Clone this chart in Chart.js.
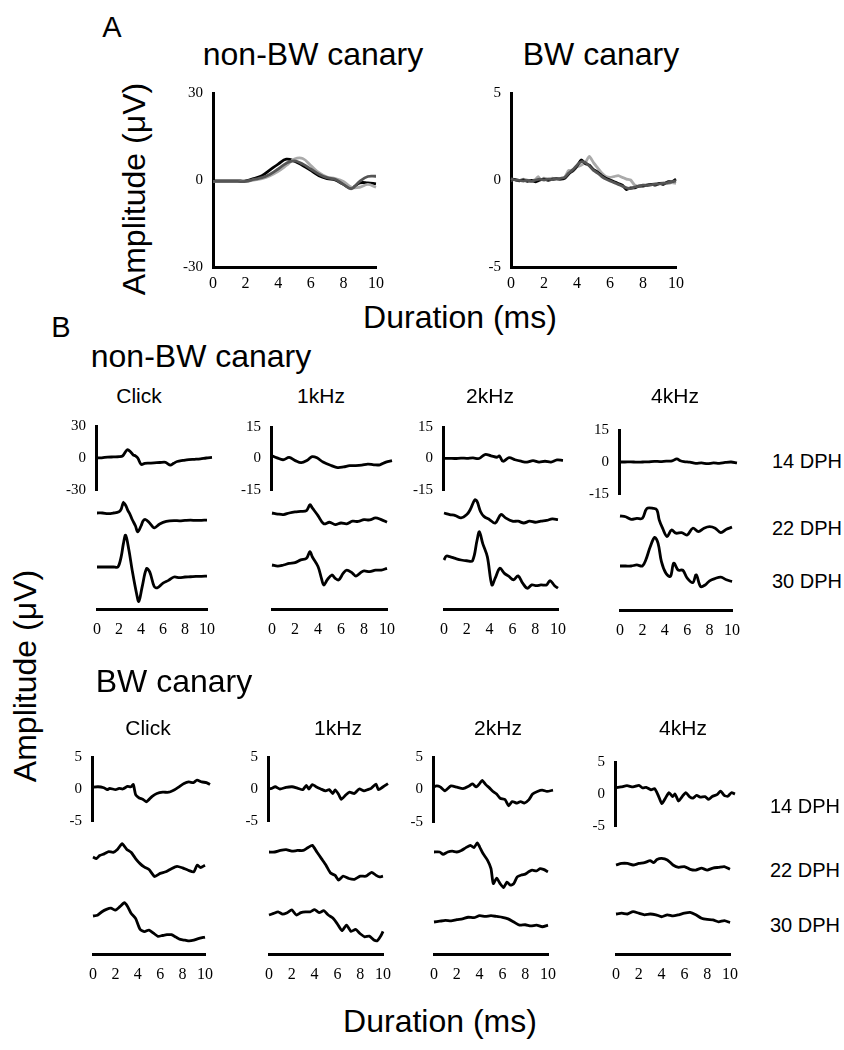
<!DOCTYPE html>
<html>
<head>
<meta charset="utf-8">
<script src="https://cdn.jsdelivr.net/npm/chart.js@4.4.1/dist/chart.umd.min.js"></script>
<style>
  body { margin: 0; background: #fff; width: 844px; height: 1050px; position: relative; overflow: hidden; }
  .lbl { position: absolute; white-space: nowrap; color: #000; line-height: 1; font-family: "Liberation Sans", Arial, sans-serif; }
  canvas { position: absolute; }
</style>
</head>
<body>
<script>
// ---- data: [time (ms), amplitude (uV)] ----
// panel A, non-BW canary (three birds)
const aNonBlack = [[0,-0.3],[0.5,-0.3],[1,-0.3],[1.5,-0.3],[2,-0.3],[2.5,0.5],[3,1.5],[3.5,3.5],[4,5.5],[4.5,7.2],[5,6.5],[5.5,5],[6,3.3],[6.5,1.5],[7,0.5],[7.5,0],[8,-1.5],[8.5,-2.8],[9,-1],[9.5,-1],[10,-1.3]];
const aNonDark = [[0,-0.5],[0.5,-0.5],[1,-0.5],[1.5,-0.5],[2,-0.5],[2.5,0.2],[3,0.8],[3.5,2],[4,3.8],[4.5,5.8],[5,6.6],[5.5,5.5],[6,3.8],[6.5,2],[7,0.8],[7.5,0.2],[8,-1.5],[8.5,-3],[9,-0.5],[9.5,1.2],[10,1.3]];
const aNonLight = [[0,-0.5],[0.5,-0.5],[1,-0.5],[1.5,-0.5],[2,-0.5],[2.5,0],[3,0.5],[3.5,1.5],[4,3],[4.5,5],[5,7.2],[5.5,7.4],[6,5],[6.5,2.5],[7,1],[7.5,0.5],[8,-0.5],[8.5,-2.5],[9,-2.5],[9.5,-1.5],[10,-2.5]];
// panel A, BW canary
const aBwBlack = [[0,0.05],[0.25,0.02],[0.5,-0.05],[0.75,0],[1,-0.08],[1.25,-0.03],[1.5,-0.1],[1.75,0],[2,0.05],[2.25,-0.02],[2.5,0.05],[2.75,0.08],[3,0.05],[3.25,0.1],[3.5,0.35],[3.75,0.55],[4,0.8],[4.25,1.15],[4.5,0.95],[4.75,0.85],[5,0.6],[5.25,0.45],[5.5,0.25],[5.75,0.1],[6,0],[6.25,-0.1],[6.5,-0.2],[6.75,-0.3],[7,-0.55],[7.25,-0.45],[7.5,-0.45],[7.75,-0.35],[8,-0.35],[8.25,-0.3],[8.5,-0.25],[8.75,-0.3],[9,-0.2],[9.25,-0.25],[9.5,-0.1],[9.75,-0.1],[10,0.05]];
const aBwDark = [[0,0.08],[0.25,0],[0.5,-0.02],[0.75,-0.06],[1,-0.02],[1.25,-0.08],[1.5,0],[1.75,0.05],[2,0],[2.25,0.05],[2.5,0.02],[2.75,0.06],[3,0.1],[3.25,0.15],[3.5,0.4],[3.75,0.6],[4,0.85],[4.25,1.05],[4.5,1.0],[4.75,0.8],[5,0.55],[5.25,0.4],[5.5,0.2],[5.75,0.05],[6,-0.05],[6.25,-0.15],[6.5,-0.25],[6.75,-0.35],[7,-0.45],[7.25,-0.5],[7.5,-0.4],[7.75,-0.35],[8,-0.3],[8.25,-0.32],[8.5,-0.28],[8.75,-0.25],[9,-0.22],[9.25,-0.2],[9.5,-0.15],[9.75,-0.1],[10,-0.05]];
const aBwLight = [[0,0],[0.25,0.02],[0.5,-0.02],[0.75,0.05],[1,0],[1.25,-0.05],[1.5,0.05],[1.65,0.2],[1.8,0],[2,0.1],[2.25,0.05],[2.5,0.1],[2.75,0.05],[3,0.05],[3.25,0.15],[3.5,0.55],[3.75,0.5],[4,0.75],[4.25,0.85],[4.5,1.0],[4.75,1.35],[5,1.0],[5.25,0.7],[5.5,0.4],[5.75,0.2],[6,0.15],[6.25,0.2],[6.5,0.25],[6.75,0.15],[7,0.05],[7.25,0],[7.5,-0.3],[7.75,-0.35],[8,-0.3],[8.25,-0.28],[8.5,-0.25],[8.75,-0.2],[9,-0.2],[9.25,-0.15],[9.5,-0.2],[9.75,-0.15],[10,-0.2]];

// panel B, non-BW canary: 14 / 22 / 30 DPH per stimulus
const nbClick14 = [[0,0],[0.5,0.2],[1,0.8],[1.5,1],[2,1.2],[2.3,2],[2.7,7.7],[3,5.5],[3.2,3],[3.4,2],[3.6,0],[3.9,-6],[4.2,-5],[4.6,-4.8],[5,-4.6],[5.5,-4.2],[6,-4],[6.2,-5.5],[6.4,-6.7],[6.7,-5],[7,-3.3],[7.5,-2.3],[8,-1.5],[8.5,-1.2],[9,-0.8],[9.5,0],[10,0.5]];
const nbClick22 = [[0,0],[0.5,0],[1,-0.5],[1.5,0],[2,1],[2.2,3],[2.4,8],[2.6,6],[2.8,2],[3,-1],[3.2,-5],[3.5,-10],[3.7,-14.5],[4,-10],[4.2,-6],[4.4,-5],[4.7,-7],[5,-10],[5.2,-11.5],[5.7,-8.5],[6.3,-6.5],[7,-5.8],[7.5,-6],[8,-5.7],[8.5,-5.5],[9,-5.7],[9.5,-5.6],[10,-5.5]];
const nbClick30 = [[0,0],[0.5,0],[1,0],[1.5,0],[1.9,0],[2.2,8],[2.4,18],[2.6,24.5],[2.9,13],[3.2,-2.6],[3.6,-20.6],[3.8,-26.5],[4.1,-15.5],[4.5,-1.3],[4.8,-3.9],[5.2,-15],[5.5,-16],[6,-12.4],[6.5,-10.3],[7,-7.7],[7.5,-8.2],[8,-7.7],[8.5,-7.5],[9,-7.2],[9.5,-7.2],[10,-7]];
const nb1k14 = [[0,1.5],[0.5,0.3],[1,-0.6],[1.5,0.5],[2,-1],[2.5,-2],[3,-0.8],[3.4,0.9],[3.8,0.3],[4.3,-1.7],[5,-3.4],[5.5,-4.3],[6,-4],[6.5,-3.4],[7,-3.4],[7.5,-3.2],[8,-2.7],[8.5,-3],[9,-3],[9.5,-1.7],[10,-1]];
const nb1k22 = [[0,0],[0.5,-0.4],[1,-0.6],[1.5,0],[2,0.4],[2.5,0.6],[3,0.9],[3.3,3.2],[3.5,2],[4,-1],[4.5,-4.2],[5,-3.6],[5.5,-4.5],[6,-3.9],[6.5,-4.2],[7,-3.2],[7.5,-3.3],[8,-2.6],[8.5,-2.7],[9,-1.9],[9.5,-2.6],[10,-3.6]];
const nb1k30 = [[0,0],[0.5,-0.4],[1,0],[1.5,0.6],[2,0.9],[2.5,2],[3,2.6],[3.3,5.2],[3.5,3.2],[4,-0.6],[4.3,-5.2],[4.5,-7.8],[4.8,-5.8],[5.2,-3.9],[5.5,-5.2],[5.8,-5.8],[6.2,-3.2],[6.5,-2],[7,-3.2],[7.3,-4.3],[7.7,-3],[8,-2.3],[8.5,-2.6],[9,-2],[9.5,-2],[10,-1.3]];
const nb2k14 = [[0,0],[0.5,0.1],[1,0],[1.5,0.2],[2,0.1],[2.5,0.3],[3,0],[3.5,1.9],[4,1.3],[4.5,0.6],[4.7,1.2],[5,-1.3],[5.5,0.4],[6,-0.6],[6.5,-1.3],[7,-1.7],[7.5,-1],[8,-1.7],[8.5,-1.3],[9,-1.7],[9.5,-0.7],[10,-0.9]];
const nb2k22 = [[0,0],[0.5,-0.6],[1,-1],[1.5,-1.9],[2,-0.6],[2.3,1.3],[2.7,5.1],[2.9,4.5],[3.2,0.6],[3.5,-1.3],[4,-2.6],[4.5,-3.9],[5,-0.6],[5.4,-1.9],[6,-3.2],[6.5,-3.2],[7,-3.9],[7.5,-3.2],[8,-3.6],[8.5,-3.2],[9,-2.9],[9.5,-2.3],[10,-2.6]];
const nb2k30 = [[0,0],[0.2,1.5],[0.5,1.3],[1,0.6],[1.5,0],[2,-0.3],[2.5,-0.3],[2.9,7.7],[3.1,11],[3.4,6.4],[3.8,1.3],[4.2,-9.7],[4.5,-7],[4.9,-3.2],[5.3,-5.2],[5.7,-6.4],[6.1,-7.7],[6.5,-6.2],[6.9,-9],[7.3,-11],[7.7,-9.7],[8.1,-10],[8.5,-9.7],[9,-9.7],[9.3,-8],[9.7,-10],[10,-11]];
const nb4k14 = [[0,0],[0.5,0],[1,0.1],[1.5,-0.1],[2,0],[2.5,0.1],[3,0.3],[3.5,0.2],[4,0.4],[4.5,0.5],[4.9,1.5],[5.2,0.6],[5.5,0.2],[6,-0.1],[6.5,-0.6],[7,-0.4],[7.5,-0.8],[8,-0.4],[8.5,-0.6],[9,-0.2],[9.5,0],[10,-0.4]];
const nb4k22 = [[0,0],[0.5,-0.3],[1,-1.3],[1.5,-0.9],[2,-0.9],[2.4,2.9],[3,2.9],[3.3,2.3],[3.5,-1.5],[3.8,-4.7],[4.2,-7.9],[4.6,-5.4],[5,-6.6],[5.5,-6.4],[6,-7.3],[6.5,-4.7],[7,-6],[7.5,-4.7],[8,-4.1],[8.5,-4.7],[9,-6.4],[9.5,-5.1],[10,-4.3]];
const nb4k30 = [[0,0],[0.5,0],[1,0],[1.5,0.4],[2,0],[2.3,2.3],[2.7,7.4],[3.1,11],[3.4,8.7],[3.7,1.7],[4.1,-2.8],[4.5,-4],[4.8,1.1],[5.2,-1.6],[5.6,-1.6],[6,-4.7],[6.5,-6.4],[6.8,-3.4],[7.2,-7.9],[7.6,-7.3],[8,-5.7],[8.5,-4.8],[9,-4.3],[9.5,-5.3],[10,-6]];

// panel B, BW canary
const bwClick14 = [[0,0.25],[0.5,0.35],[1,0.2],[1.3,-0.1],[1.5,0.1],[2,-0.1],[2.3,0.1],[2.6,0],[3,0.4],[3.3,0.35],[3.5,0.7],[3.7,-0.9],[4,-1.4],[4.3,-1.6],[4.6,-2],[4.8,-1.7],[5.1,-1.15],[5.5,-0.7],[6,-0.5],[6.5,-0.5],[7,-0.1],[7.3,0.25],[7.8,0.85],[8.2,1.1],[8.6,1],[8.9,1.4],[9.3,1.1],[9.7,1],[10,0.7]];
const bwClick22 = [[0,0],[0.3,-0.2],[0.6,0.2],[1,0.4],[1.4,0.7],[1.8,0.6],[2.2,1.0],[2.6,1.7],[3,1.0],[3.4,0.6],[3.8,-0.2],[4.2,-0.85],[4.6,-1.3],[5,-1.6],[5.5,-2.5],[6,-2.1],[6.5,-1.9],[7,-1.5],[7.5,-1.2],[8,-1.4],[8.5,-1.7],[9,-1.9],[9.3,-1.05],[9.6,-1.35],[10,-1.05]];
const bwClick30 = [[0,0],[0.4,0.1],[0.8,0.55],[1.2,0.85],[1.6,1.0],[2,0.75],[2.4,1.2],[2.8,1.7],[3.1,1.2],[3.4,0.35],[3.8,-0.3],[4.2,-1.7],[4.6,-2],[5,-1.8],[5.4,-2.2],[5.8,-2.6],[6.2,-2.5],[6.6,-2.4],[7,-2.4],[7.4,-2.7],[7.8,-3],[8.2,-3.1],[8.6,-3.2],[9,-3.1],[9.4,-2.9],[10,-2.7]];
const bw1k14 = [[0,0],[0.3,0.1],[0.6,0.35],[1,0],[1.5,0.25],[2,0.35],[2.5,0.1],[2.9,-0.1],[3.2,0.55],[3.4,0],[3.7,0.7],[4,0.35],[4.4,0],[4.8,-0.3],[5.1,-0.1],[5.4,-0.7],[5.6,-0.15],[5.9,-0.9],[6.1,-1.6],[6.5,-0.9],[6.8,-0.5],[7.2,-0.7],[7.6,0],[8,-0.3],[8.3,-0.1],[8.6,0.1],[9,0.75],[9.2,-0.1],[9.6,0.35],[10,0.85]];
const bw1k22 = [[0,0],[0.5,0],[1,0.2],[1.5,0.3],[2,0.1],[2.5,0.2],[3,0.2],[3.4,0.55],[3.8,0.85],[4.2,0],[4.6,-0.85],[5,-1.7],[5.4,-2.7],[5.8,-3],[6.1,-3.6],[6.5,-3.1],[7,-3.4],[7.5,-3.5],[8,-3.1],[8.5,-3.1],[9,-2.6],[9.4,-3],[9.7,-3.2],[10,-3.1]];
const bw1k30 = [[0,0],[0.4,0.2],[0.8,0.4],[1.2,0.1],[1.6,0.3],[2,0.65],[2.4,0],[2.8,0.3],[3.2,0.4],[3.6,0.4],[4,0.7],[4.4,0.3],[4.8,0.55],[5.2,0],[5.6,-0.4],[6,-1.15],[6.4,-2],[6.8,-1.3],[7.2,-2.1],[7.6,-1.85],[8,-2.4],[8.4,-2.8],[8.8,-2.7],[9.2,-3.2],[9.5,-3.3],[9.8,-2.7],[10,-2.1]];
const bw2k14 = [[0,0.35],[0.3,0.55],[0.6,0.4],[1,-0.2],[1.5,0.55],[2,0.35],[2.5,0.15],[3,0.55],[3.3,0.85],[3.6,0.4],[3.9,0.95],[4.1,1.4],[4.4,0.75],[4.7,0.25],[5,-0.3],[5.3,-0.7],[5.6,-1.35],[6,-1.55],[6.3,-2.5],[6.6,-1.85],[7,-2.1],[7.3,-1.85],[7.6,-2.1],[8,-1.55],[8.3,-0.7],[8.7,-0.3],[9.1,-0.1],[9.5,-0.3],[10,-0.1]];
const bw2k22 = [[0,0],[0.5,0],[0.8,-0.3],[1.2,0],[1.6,0.1],[2,0],[2.4,0.2],[2.8,0.55],[3.2,0.85],[3.5,0.55],[3.8,1.15],[4,0.65],[4.3,-0.2],[4.7,-1.05],[5,-2.1],[5.2,-4],[5.5,-3.3],[5.8,-4],[6.1,-4.5],[6.4,-3.8],[6.7,-4.2],[7,-4],[7.3,-3.15],[7.7,-2.9],[8,-2.8],[8.3,-2.5],[8.6,-2.3],[9,-2.4],[9.3,-2.1],[9.6,-2.2],[10,-2.5]];
const bw2k30 = [[0,0],[0.5,0.1],[1,0.2],[1.5,0.15],[2,0.3],[2.5,0.4],[3,0.6],[3.5,0.55],[4,0.8],[4.5,0.7],[5,0.8],[5.5,0.7],[6,0.6],[6.5,0.4],[7,0],[7.5,-0.4],[8,-0.35],[8.5,-0.5],[9,-0.4],[9.5,-0.6],[10,-0.4]];
const bw4k14 = [[0,0.95],[0.5,1.1],[1,1.3],[1.5,1.1],[2,1.35],[2.3,0.95],[2.6,1.05],[3,0.65],[3.3,0.85],[3.6,-0.2],[3.9,-1.5],[4.2,-0.65],[4.5,0.2],[4.8,-0.4],[5,0],[5.3,-1.1],[5.6,-0.4],[5.9,0.2],[6.2,-0.4],[6.5,-0.65],[6.8,-0.2],[7.1,-0.5],[7.5,-0.4],[7.8,-0.85],[8.1,-0.4],[8.5,-0.1],[8.8,0.45],[9.1,-0.2],[9.4,-0.35],[9.7,0.2],[10,0]];
const bw4k22 = [[0,0],[0.5,0.2],[1,0.2],[1.5,0],[2,0.2],[2.5,0.3],[3,0.55],[3.3,0.3],[3.6,0.7],[4,0.85],[4.5,0.65],[5,0],[5.5,-0.3],[6,-0.2],[6.5,-0.55],[7,-0.65],[7.5,-0.4],[8,-0.65],[8.5,-0.4],[9,-0.3],[9.5,-0.2],[10,-0.55]];
const bw4k30 = [[0,0],[0.5,0.1],[1,0],[1.5,0.3],[2,0.1],[2.5,-0.1],[3,0],[3.5,-0.1],[4,-0.35],[4.5,-0.1],[5,-0.25],[5.5,-0.1],[6,0.1],[6.5,0.2],[7,-0.1],[7.5,-0.55],[8,-0.7],[8.5,-0.75],[9,-1.0],[9.5,-0.85],[10,-1.1]];

const stimuli = ['Click', '1kHz', '2kHz', '4kHz'];
const ages = ['14 DPH', '22 DPH', '30 DPH'];
const xTicks = [0, 2, 4, 6, 8, 10];

// ---- helpers ----
const LW = 40;      // width kept for y tick labels
const SERIF = "'Liberation Serif', 'Times New Roman', serif";

function text(str, cx, baseline, size, anchor) {
  const d = document.createElement('div');
  d.className = 'lbl';
  d.textContent = str;
  d.style.fontSize = size + 'px';
  d.style.top = (baseline - 0.8465 * size) + 'px';
  d.style.left = cx + 'px';
  if (anchor !== 'left') d.style.transform = 'translateX(-50%)';
  document.body.appendChild(d);
}
function vtext(str, cx, cy, size) {
  const d = document.createElement('div');
  d.className = 'lbl';
  d.textContent = str;
  d.style.fontSize = size + 'px';
  d.style.left = cx + 'px';
  d.style.top = cy + 'px';
  d.style.transform = 'translate(-50%,-50%) rotate(-90deg)';
  document.body.appendChild(d);
}
function makeCanvas(left, top, w, h) {
  const c = document.createElement('canvas');
  c.width = w; c.height = h;
  c.style.left = left + 'px'; c.style.top = top + 'px';
  c.style.width = w + 'px'; c.style.height = h + 'px';
  document.body.appendChild(c);
  return c;
}
function trace(pairs, color, yAxisID, tension) {
  return {
    data: pairs.map(p => ({x: p[0], y: p[1]})),
    borderColor: color, borderWidth: 2.8, pointRadius: 0,
    tension: tension, yAxisID: yAxisID, clip: false, fill: false
  };
}
function xAxis(show, pad, h) {
  return {
    type: 'linear', min: 0, max: 10, display: show,
    border: {display: true, color: '#000', width: 3},
    grid: {display: false, drawTicks: false},
    afterBuildTicks: s => { s.ticks = xTicks.map(v => ({value: v})); },
    ticks: {padding: pad, font: {family: SERIF, size: 16}, color: '#000', maxRotation: 0, autoSkip: false},
    afterFit: s => { s.height = h; }
  };
}
function yAxis(R) {
  return {
    type: 'linear', min: -R, max: R,
    border: {display: true, color: '#000', width: 3},
    grid: {display: false, drawTicks: false},
    afterBuildTicks: s => { s.ticks = [{value: -R}, {value: 0}, {value: R}]; },
    ticks: {padding: 10, font: {family: SERIF, size: 15}, color: '#000'},
    afterFit: s => { s.width = LW; }
  };
}
function options(padding, scales) {
  return {
    responsive: false, animation: false, devicePixelRatio: 1, events: [],
    layout: {padding: padding},
    plugins: {legend: {display: false}, tooltip: {enabled: false}, title: {display: false}},
    scales: scales
  };
}

// ---- panel A ----
function panelA(c, sets) {
  const padT = 12, padR = 14, XH = 28;
  const cv = makeCanvas(c.x0 - LW, c.top - padT, LW + (c.x1 - c.x0) + padR, padT + (c.bot - c.top) + XH);
  new Chart(cv, {
    type: 'line',
    data: {datasets: sets},
    options: options({top: padT, right: padR, left: 0, bottom: 0}, {
      x: xAxis(true, 7, XH),
      y: yAxis(c.R)
    })
  });
}
panelA({x0: 213, x1: 377, top: 86, bot: 267, R: 30}, [
  trace(aNonDark, '#555555', 'y', 0.4),
  trace(aNonLight, '#aaaaaa', 'y', 0.4),
  trace(aNonBlack, '#000000', 'y', 0.4)
]);
panelA({x0: 511, x1: 677, top: 86, bot: 267, R: 5}, [
  trace(aBwDark, '#555555', 'y', 0.2),
  trace(aBwBlack, '#000000', 'y', 0.2),
  trace(aBwLight, '#aaaaaa', 'y', 0.2)
]);

// ---- panel B ----
function column(c, tension) {
  const XH = 34;
  // top trace with its own amplitude axis
  const padT = 12, padB = 12, padR = 10;
  const cv1 = makeCanvas(c.x0 - LW, c.top - padT, LW + (c.x1 - c.x0) + padR, (c.bot - c.top) + padT + padB);
  new Chart(cv1, {
    type: 'line',
    data: {datasets: [trace(c.traces[0], '#000', 'y', tension)]},
    options: options({top: padT, bottom: padB, left: 0, right: padR}, {
      x: {type: 'linear', min: 0, max: 10, display: false},
      y: yAxis(c.R)
    })
  });
  // lower two traces share the same amplitude scale, offset by range
  const padT2 = 40, padL = 14;
  const T0 = c.bot + 6;
  const H = c.xa - T0;
  const ppu = (c.bot - c.top) / (2 * c.R);
  const range = base => {
    const max = (base - T0) / ppu;
    return {type: 'linear', display: false, min: max - H / ppu, max: max};
  };
  const cv2 = makeCanvas(c.x0 - padL, T0 - padT2, padL + (c.x1 - c.x0) + 14, padT2 + H + XH);
  new Chart(cv2, {
    type: 'line',
    data: {datasets: [trace(c.traces[1], '#000', 'y22', tension), trace(c.traces[2], '#000', 'y30', tension)]},
    options: options({top: padT2, left: padL, right: 14, bottom: 0}, {
      x: xAxis(true, 11, XH),
      y22: range(c.b22),
      y30: range(c.b30)
    })
  });
}

const nonBwCols = [
  {x0: 96, x1: 212, top: 419, bot: 497, R: 30, b22: 513, b30: 567, xa: 609, traces: [nbClick14, nbClick22, nbClick30]},
  {x0: 271, x1: 392, top: 420, bot: 497, R: 15, b22: 513, b30: 565, xa: 609, traces: [nb1k14, nb1k22, nb1k30]},
  {x0: 443, x1: 563, top: 420, bot: 497, R: 15, b22: 513, b30: 560, xa: 609, traces: [nb2k14, nb2k22, nb2k30]},
  {x0: 619, x1: 737, top: 423, bot: 501, R: 15, b22: 516, b30: 566, xa: 610, traces: [nb4k14, nb4k22, nb4k30]}
];
const bwCols = [
  {x0: 92, x1: 210, top: 750, bot: 828, R: 5, b22: 857, b30: 916, xa: 954, traces: [bwClick14, bwClick22, bwClick30]},
  {x0: 268, x1: 388, top: 750, bot: 828, R: 5, b22: 852, b30: 915, xa: 954, traces: [bw1k14, bw1k22, bw1k30]},
  {x0: 433, x1: 553, top: 750, bot: 829, R: 5, b22: 852, b30: 922, xa: 954, traces: [bw2k14, bw2k22, bw2k30]},
  {x0: 615, x1: 735, top: 755, bot: 833, R: 5, b22: 865, b30: 914, xa: 954, traces: [bw4k14, bw4k22, bw4k30]}
];
nonBwCols.forEach(c => column(c, 0.35));
bwCols.forEach(c => column(c, 0.2));

// ---- text ----
text('A', 112, 38, 29);
text('non-BW canary', 313, 65, 32);
text('BW canary', 601, 65, 32);
vtext('Amplitude (\u03bcV)', 134, 189, 32);
text('Duration (ms)', 460, 328, 32);

text('B', 61, 338, 29);
text('non-BW canary', 201, 367, 32);
[139, 321, 490, 675].forEach((cx, i) => text(stimuli[i], cx, 403, 21));
[468, 535, 588].forEach((b, i) => text(ages[i], 772, b, 20, 'left'));

text('BW canary', 174, 692, 32);
[148, 338, 498, 683].forEach((cx, i) => text(stimuli[i], cx, 735, 21));
[813, 877, 932].forEach((b, i) => text(ages[i], 770, b, 20, 'left'));

vtext('Amplitude (\u03bcV)', 25, 676, 32);
text('Duration (ms)', 440, 1032, 32);
</script>
